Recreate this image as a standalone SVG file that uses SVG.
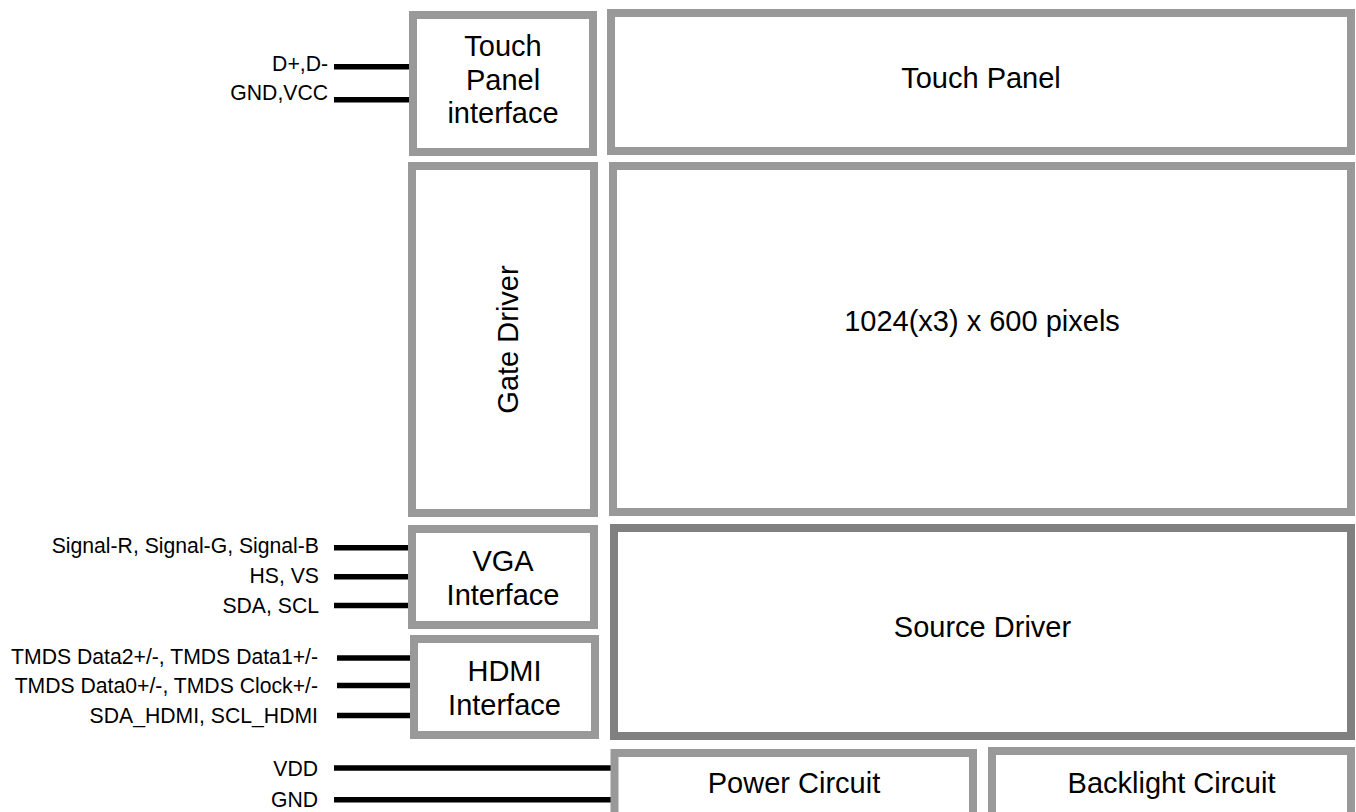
<svg xmlns="http://www.w3.org/2000/svg" width="1356" height="812" viewBox="0 0 1356 812">
<style>
.box{fill:#ffffff;stroke:#999999;stroke-width:8}
.dark{stroke:#808080}
.lbl{font-family:"Liberation Sans",Arial,sans-serif;font-size:29px;fill:#000000;text-anchor:middle}
.sig{font-family:"Liberation Sans",Arial,sans-serif;font-size:21.2px;fill:#000000;text-anchor:end}
.wire{stroke:#000000;stroke-width:5.5;fill:none}
</style>
<rect width="1356" height="812" fill="#ffffff"/>
<g id="connectors">
<line class="wire" x1="334" y1="66.7" x2="410" y2="66.7"/>
<line class="wire" x1="334" y1="99.7" x2="410" y2="99.7"/>
<line class="wire" x1="334" y1="547.8" x2="409" y2="547.8"/>
<line class="wire" x1="334" y1="576.7" x2="409" y2="576.7"/>
<line class="wire" x1="334" y1="605.5" x2="409" y2="605.5"/>
<line class="wire" x1="337" y1="658" x2="412" y2="658"/>
<line class="wire" x1="337" y1="685.5" x2="412" y2="685.5"/>
<line class="wire" x1="337" y1="715.5" x2="412" y2="715.5"/>
<line class="wire" x1="334" y1="768" x2="612" y2="768"/>
<line class="wire" x1="334" y1="799.7" x2="612" y2="799.7"/>
</g>
<g id="signal-labels">
<text class="sig" x="328" y="70.5">D+,D-</text>
<text class="sig" x="328" y="100">GND,VCC</text>
<text class="sig" x="319" y="553.3">Signal-R, Signal-G, Signal-B</text>
<text class="sig" x="319" y="583.3">HS, VS</text>
<text class="sig" x="319" y="613.3">SDA, SCL</text>
<text class="sig" x="318" y="664">TMDS Data2+/-, TMDS Data1+/-</text>
<text class="sig" x="318" y="693">TMDS Data0+/-, TMDS Clock+/-</text>
<text class="sig" x="318" y="723">SDA_HDMI, SCL_HDMI</text>
<text class="sig" x="318" y="776">VDD</text>
<text class="sig" x="318" y="806.5">GND</text>
</g>
<g id="touch-panel-interface">
<rect class="box" x="413" y="15" width="180" height="137"/>
<text class="lbl" x="503" y="55.5">Touch</text>
<text class="lbl" x="503" y="89.5">Panel</text>
<text class="lbl" x="503" y="122.5">interface</text>
</g>
<g id="touch-panel">
<rect class="box" x="611" y="13" width="740" height="138"/>
<text class="lbl" x="981" y="88.3">Touch Panel</text>
</g>
<g id="gate-driver">
<rect class="box" x="412" y="166" width="182" height="347"/>
<text class="lbl" transform="translate(518,339.5) rotate(-90)" x="0" y="0">Gate Driver</text>
</g>
<g id="pixels">
<rect class="box" x="613" y="166" width="738" height="346"/>
<text class="lbl" x="982" y="331">1024(x3) x 600 pixels</text>
</g>
<g id="vga-interface">
<rect class="box" x="412" y="529" width="182" height="96"/>
<text class="lbl" x="503" y="570.5">VGA</text>
<text class="lbl" x="503" y="604.5">Interface</text>
</g>
<g id="hdmi-interface">
<rect class="box" x="414" y="639" width="181" height="96"/>
<text class="lbl" x="504.5" y="680.5">HDMI</text>
<text class="lbl" x="504.5" y="714.5">Interface</text>
</g>
<g id="source-driver">
<rect class="box dark" x="614" y="528" width="737" height="208"/>
<text class="lbl" x="982.5" y="636.7">Source Driver</text>
</g>
<g id="power-circuit">
<rect class="box" x="614.5" y="753" width="358.5" height="70"/>
<text class="lbl" x="794" y="793">Power Circuit</text>
</g>
<g id="backlight-circuit">
<rect class="box" x="992" y="751" width="359" height="70"/>
<text class="lbl" x="1171.5" y="793">Backlight Circuit</text>
</g>
</svg>
